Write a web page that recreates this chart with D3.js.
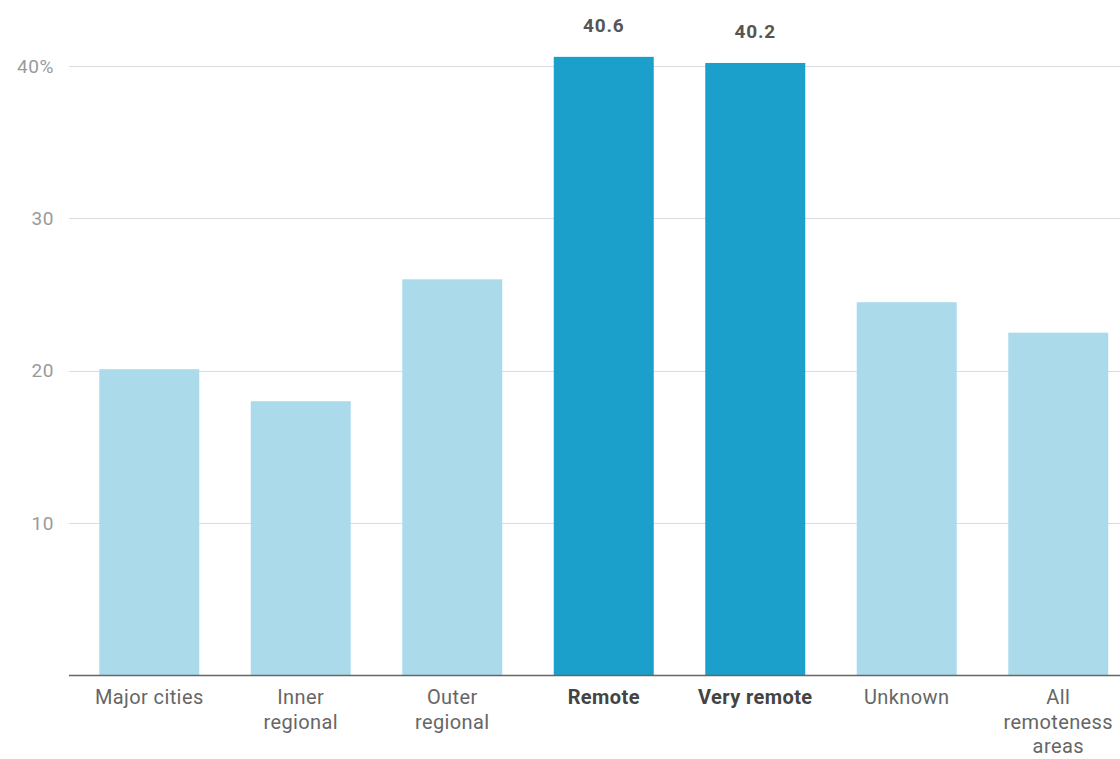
<!DOCTYPE html>
<html>
<head>
<meta charset="utf-8">
<script src="https://cdn.jsdelivr.net/npm/d3@7"></script>
<style>
  html, body { margin: 0; padding: 0; background: #fff; }
  svg { display: block; font-family: Roboto, "Open Sans", sans-serif; }
</style>
</head>
<body>
<svg id="chart" width="1120" height="759"></svg>
<script>
const categories = ["Major cities", "Inner regional", "Outer regional", "Remote", "Very remote", "Unknown", "All remoteness areas"];
const labelLines = [["Major cities"], ["Inner", "regional"], ["Outer", "regional"], ["Remote"], ["Very remote"], ["Unknown"], ["All", "remoteness", "areas"]];
const values = [20.1, 18.0, 26.0, 40.6, 40.2, 24.5, 22.5];
const highlighted = [false, false, false, true, true, false, false];
const yTicks = [10, 20, 30, 40];
const yTickLabels = ["10", "20", "30", "40%"];

const svg = d3.select("#chart");
const x = d3.scaleBand().domain(categories).range([73.5, 1134]).paddingInner(0.34).paddingOuter(0.17);
const y = d3.scaleLinear().domain([0, 40]).range([675.5, 66]);

// gridlines
svg.append("g").selectAll("line").data(yTicks).join("line")
  .attr("x1", 69).attr("x2", 1120)
  .attr("y1", d => Math.round(y(d)) + 0.5).attr("y2", d => Math.round(y(d)) + 0.5)
  .attr("stroke", "#dcdcdc").attr("stroke-width", 1);

// y tick labels
svg.append("g").selectAll("text").data(yTicks).join("text")
  .attr("x", 54).attr("y", d => y(d)).attr("dy", "0.35em")
  .attr("text-anchor", "end").attr("font-size", 19).attr("letter-spacing", 0.6).attr("fill", "#9a9a9a")
  .text((d, i) => yTickLabels[i]);

// bars
svg.append("g").selectAll("rect").data(categories).join("rect")
  .attr("x", d => x(d)).attr("width", x.bandwidth())
  .attr("y", (d, i) => y(values[i])).attr("height", (d, i) => y(0) - y(values[i]))
  .attr("fill", (d, i) => highlighted[i] ? "#1b9fcb" : "#abdbeb");

// value labels on highlighted bars
svg.append("g").selectAll("text").data(categories.filter((d, i) => highlighted[i])).join("text")
  .attr("x", d => x(d) + x.bandwidth() / 2)
  .attr("y", d => y(values[categories.indexOf(d)]) - 25)
  .attr("text-anchor", "middle").attr("font-size", 19).attr("letter-spacing", 0.8).attr("font-weight", "bold").attr("fill", "#555")
  .text(d => values[categories.indexOf(d)].toFixed(1));

// baseline
svg.append("line").attr("x1", 69).attr("x2", 1120).attr("y1", 675.5).attr("y2", 675.5)
  .attr("stroke", "#666").attr("stroke-width", 1.5);

// category labels
const lg = svg.append("g").selectAll("text").data(categories).join("text")
  .attr("x", d => x(d) + x.bandwidth() / 2)
  .attr("y", 704)
  .attr("text-anchor", "middle").attr("font-size", 20).attr("letter-spacing", 0.4)
  .attr("font-weight", (d, i) => highlighted[i] ? "bold" : "normal")
  .attr("fill", (d, i) => highlighted[i] ? "#444" : "#666");
lg.each(function(d, i) {
  const t = d3.select(this);
  labelLines[i].forEach((line, j) => {
    t.append("tspan").attr("x", x(d) + x.bandwidth() / 2).attr("dy", j === 0 ? 0 : 24.5).text(line);
  });
});
</script>
</body>
</html>
